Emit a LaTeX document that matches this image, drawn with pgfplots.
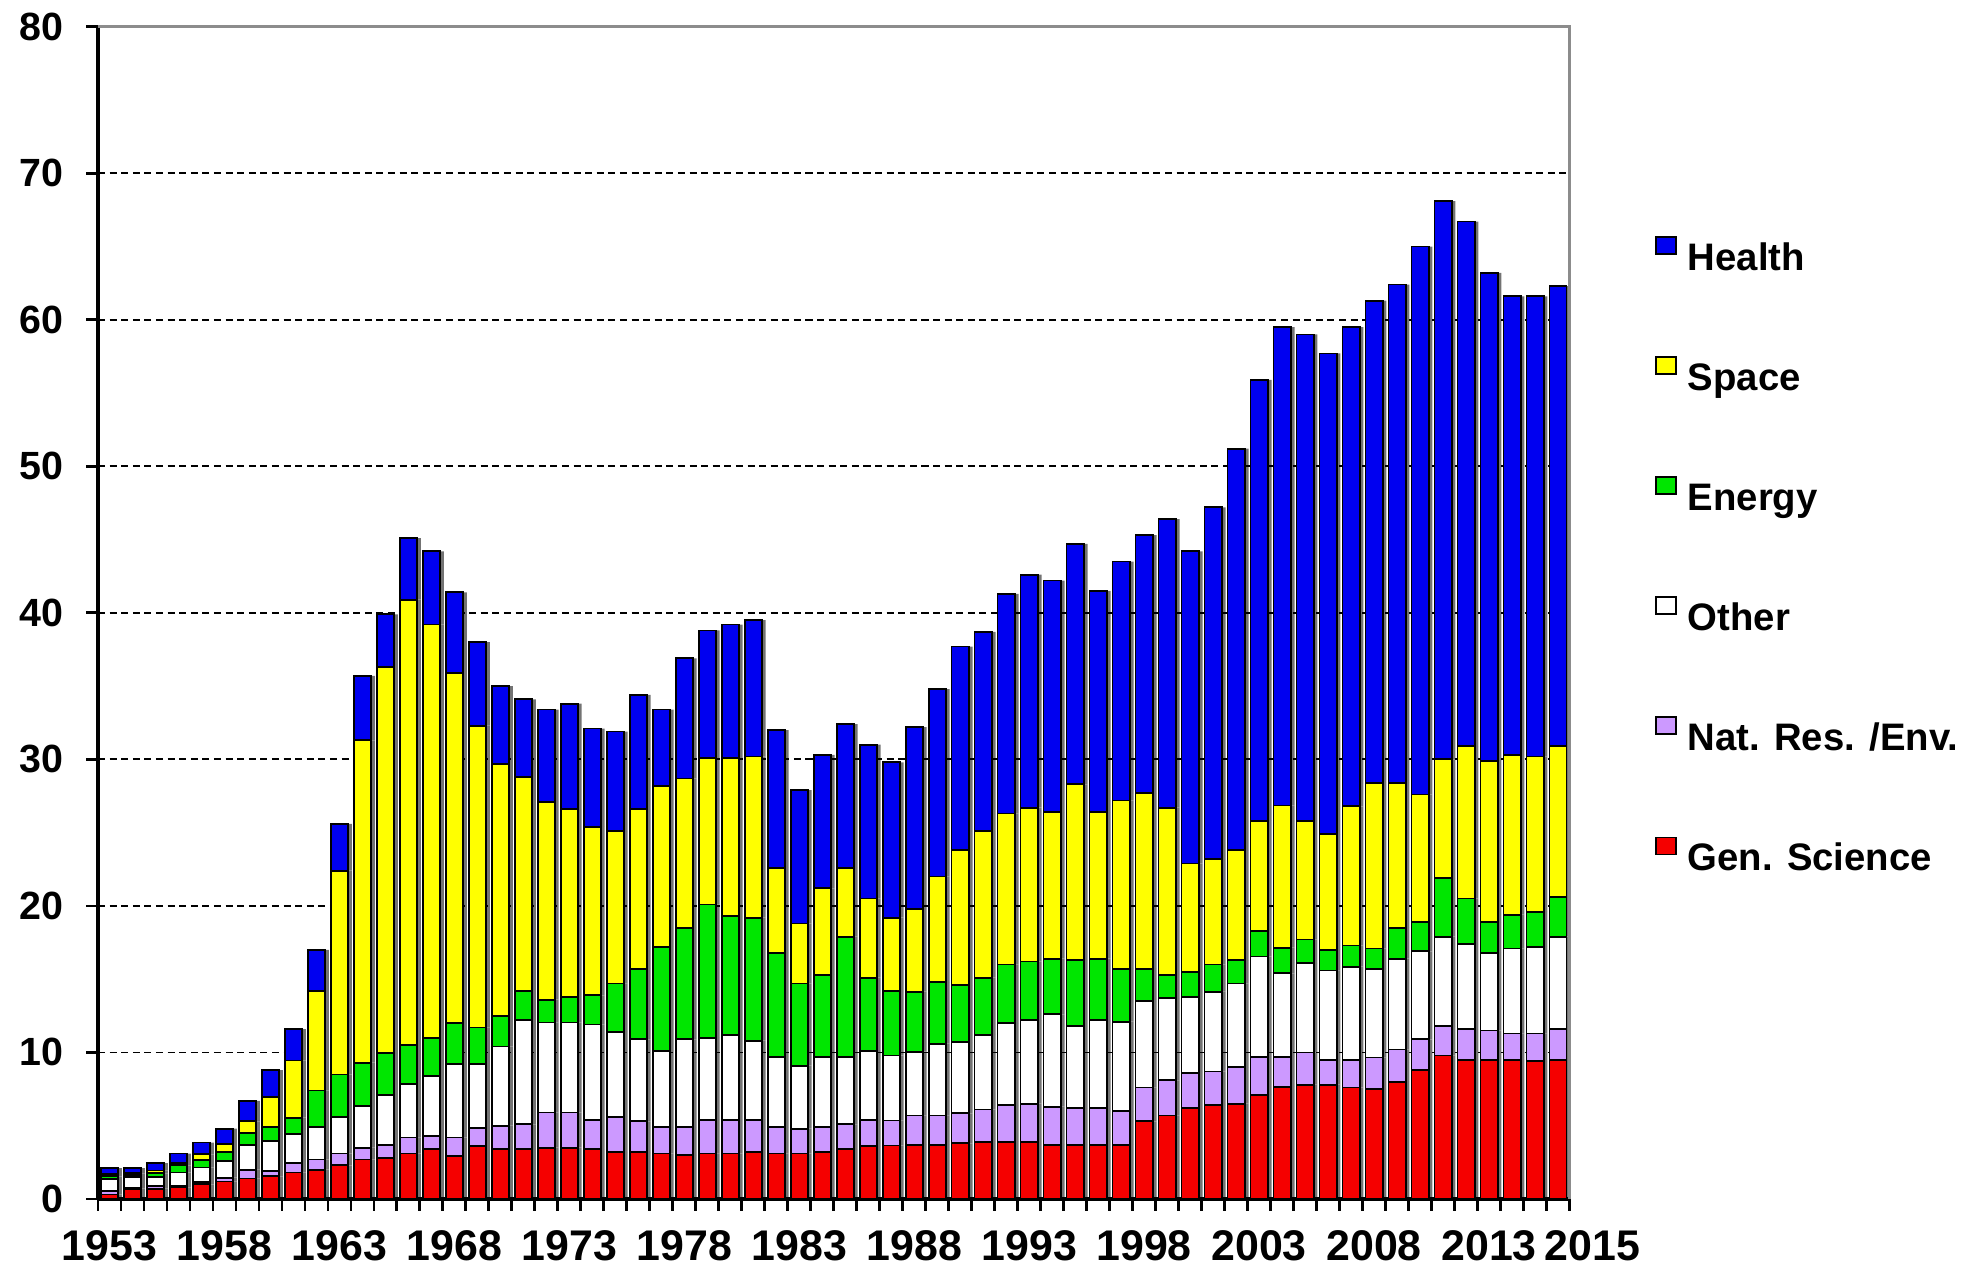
\documentclass[border=0pt]{standalone}
\usepackage{fontspec}
\setmainfont{Liberation Sans}
\usepackage{pgfplots}
\pgfplotsset{compat=1.18}
\usepackage{pgfplotstable}
\definecolor{cHe}{RGB}{0,0,240}
\definecolor{cSp}{RGB}{255,255,0}
\definecolor{cEn}{RGB}{0,230,0}
\definecolor{cOt}{RGB}{255,255,255}
\definecolor{cNr}{RGB}{204,153,255}
\definecolor{cGs}{RGB}{245,0,0}
\pgfplotstableread{
year gs nr oth en sp he
1953 0.30 0.25 0.80 0.20 0.15 0.40
1954 0.70 0.05 0.75 0.15 0.10 0.35
1955 0.70 0.20 0.60 0.25 0.20 0.50
1956 0.80 0.10 0.90 0.50 0.15 0.65
1957 1.00 0.15 1.00 0.50 0.40 0.80
1958 1.20 0.25 1.15 0.60 0.55 1.05
1959 1.40 0.60 1.70 0.80 0.80 1.40
1960 1.55 0.35 2.05 0.95 2.05 1.85
1961 1.80 0.65 2.00 1.10 3.90 2.15
1962 2.00 0.70 2.20 2.50 6.80 2.80
1963 2.30 0.80 2.50 2.90 13.90 3.20
1964 2.70 0.80 2.85 2.95 22.00 4.40
1965 2.80 0.90 3.40 2.85 26.35 3.60
1966 3.10 1.10 3.65 2.65 30.40 4.20
1967 3.40 0.90 4.10 2.60 28.20 5.00
1968 2.95 1.25 5.00 2.80 23.90 5.50
1969 3.60 1.25 4.35 2.50 20.60 5.70
1970 3.40 1.60 5.40 2.10 17.20 5.30
1971 3.40 1.70 7.10 2.00 14.60 5.30
1972 3.50 2.40 6.15 1.55 13.50 6.30
1973 3.50 2.40 6.15 1.75 12.80 7.20
1974 3.40 2.00 6.50 2.00 11.50 6.70
1975 3.20 2.40 5.80 3.30 10.40 6.80
1976 3.20 2.10 5.60 4.80 10.90 7.80
1977 3.10 1.80 5.20 7.10 11.00 5.20
1978 3.00 1.90 6.00 7.60 10.20 8.20
1979 3.10 2.30 5.60 9.10 10.00 8.70
1980 3.10 2.30 5.80 8.10 10.80 9.10
1981 3.20 2.20 5.40 8.40 11.00 9.30
1982 3.10 1.80 4.80 7.10 5.80 9.40
1983 3.10 1.70 4.30 5.60 4.10 9.10
1984 3.20 1.70 4.80 5.60 5.90 9.10
1985 3.40 1.70 4.60 8.20 4.70 9.80
1986 3.60 1.80 4.70 5.00 5.40 10.50
1987 3.65 1.70 4.45 4.40 5.00 10.60
1988 3.70 2.00 4.35 4.10 5.65 12.40
1989 3.70 2.00 4.90 4.20 7.20 12.80
1990 3.80 2.05 4.85 3.90 9.20 13.90
1991 3.90 2.20 5.10 3.90 10.00 13.60
1992 3.90 2.50 5.60 4.00 10.30 15.00
1993 3.90 2.60 5.70 4.00 10.50 15.90
1994 3.70 2.60 6.30 3.80 10.00 15.80
1995 3.70 2.50 5.60 4.50 12.00 16.40
1996 3.70 2.50 6.00 4.20 10.00 15.10
1997 3.70 2.30 6.10 3.60 11.50 16.30
1998 5.30 2.30 5.90 2.20 12.00 17.60
1999 5.70 2.40 5.60 1.60 11.40 19.70
2000 6.20 2.40 5.20 1.70 7.40 21.30
2001 6.40 2.30 5.45 1.85 7.20 24.00
2002 6.50 2.50 5.70 1.60 7.50 27.40
2003 7.10 2.60 6.85 1.75 7.50 30.10
2004 7.65 2.05 5.70 1.75 9.70 32.65
2005 7.80 2.20 6.10 1.60 8.10 33.20
2006 7.80 1.70 6.10 1.40 7.90 32.80
2007 7.60 1.90 6.35 1.45 9.50 32.70
2008 7.50 2.15 6.05 1.40 11.30 32.90
2009 8.00 2.20 6.20 2.10 9.90 34.00
2010 8.80 2.10 6.00 2.00 8.70 37.40
2011 9.80 2.00 6.10 4.00 8.10 38.10
2012 9.50 2.10 5.80 3.10 10.40 35.80
2013 9.50 2.00 5.30 2.10 11.00 33.30
2014 9.50 1.80 5.80 2.30 10.90 31.30
2015 9.40 1.90 5.90 2.40 10.60 31.40
2016 9.50 2.10 6.30 2.70 10.30 31.40
}\data
\pgfplotsset{base/.style={scale only axis, width=147.15mm, height=117.23mm,
  xmin=1952.5, xmax=2016.5, ymin=0, ymax=80, ybar stacked, bar width=1.72mm,
  at={(0,0)}, anchor=south west}}
\newcommand\lstrut{\rule[-0.8mm]{0pt}{3.6mm}}
\begin{document}
\begin{tikzpicture}
\path[use as bounding box] (-9.8mm,-6.9mm) rectangle (186.4mm,119.9mm);
% shadow
\begin{axis}[base, hide axis]
\addplot[fill=black!55, draw=none, bar shift=0.38mm] table[x=year,y=gs]{\data};
\addplot[fill=black!55, draw=none, bar shift=0.38mm] table[x=year,y=nr]{\data};
\addplot[fill=black!55, draw=none, bar shift=0.38mm] table[x=year,y=oth]{\data};
\addplot[fill=black!55, draw=none, bar shift=0.38mm] table[x=year,y=en]{\data};
\addplot[fill=black!55, draw=none, bar shift=0.38mm] table[x=year,y=sp]{\data};
\addplot[fill=black!55, draw=none, bar shift=0.38mm] table[x=year,y=he]{\data};
\end{axis}
\begin{axis}[base, clip=false,
  axis lines=left, axis line style={-, line width=1pt, black},
  tick align=outside, major tick length=1.2mm,
  tick style={black, line width=0.8pt},
  ytick={0,10,...,70}, extra y ticks={80}, extra y tick style={grid=none},
  ymajorgrids, grid style={black, line width=0.5pt, dash pattern=on 2pt off 1.3pt},
  yticklabel style={font=\fontsize{11.2}{13}\selectfont\bfseries, /pgf/number format/assume math mode=true, xshift=-1mm},
  xtick={1952.5,1953.5,...,2016.6}, xticklabels={},
  extra x ticks={1953,1958,...,2013},
  extra x tick labels={1953,1958,1963,1968,1973,1978,1983,1988,1993,1998,2003,2008,2013},
  extra x tick style={major tick length=0pt, grid=none},
  xticklabel style={font=\fontsize{12.2}{14}\selectfont\bfseries, inner sep=0pt, anchor=north, yshift=-3.1mm},
  reverse legend, legend cell align=left,
  legend style={draw=none, fill=none, at={(1.0581,0.8215)}, anchor=north west,
    inner sep=0pt, outer sep=0pt, row sep=8.06mm, column sep=1.1mm,
    font=\fontsize{10.9}{13}\selectfont\bfseries, nodes={inner sep=0pt, outer sep=0pt}},
  legend image code/.code={\draw[#1, line width=0.5pt] (0mm,0.5mm) rectangle (2.0mm,2.2mm);},
  ]
\addplot[fill=cGs, draw=black, line width=0.5pt] table[x=year,y=gs]{\data};
\addlegendentry{\lstrut Gen. Science}
\addplot[fill=cNr, draw=black, line width=0.5pt] table[x=year,y=nr]{\data};
\addlegendentry{\lstrut Nat. Res. /Env.}
\addplot[fill=cOt, draw=black, line width=0.5pt] table[x=year,y=oth]{\data};
\addlegendentry{\lstrut Other}
\addplot[fill=cEn, draw=black, line width=0.5pt] table[x=year,y=en]{\data};
\addlegendentry{\lstrut Energy}
\addplot[fill=cSp, draw=black, line width=0.5pt] table[x=year,y=sp]{\data};
\addlegendentry{\lstrut Space}
\addplot[fill=cHe, draw=black, line width=0.5pt] table[x=year,y=he]{\data};
\addlegendentry{\lstrut Health}
\draw[black!45, line width=0.7pt] (rel axis cs:0,1) -- (rel axis cs:1,1) -- (rel axis cs:1,0);
\node[anchor=north, inner sep=0pt, font=\fontsize{12.2}{14}\selectfont\bfseries] at (axis cs:2017.5,0) [yshift=-3.1mm] {2015};
\end{axis}
\end{tikzpicture}
\end{document}
